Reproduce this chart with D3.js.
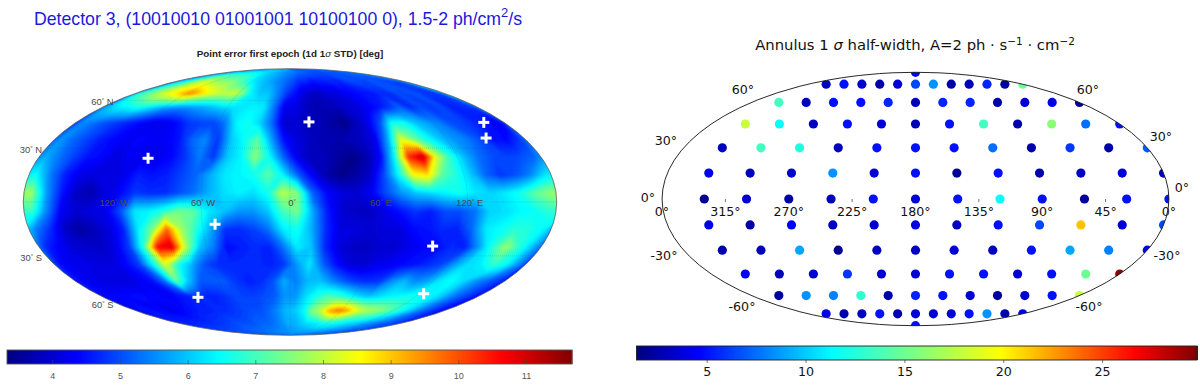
<!DOCTYPE html>
<html lang="en">
<head>
    <meta charset="UTF-8">
    <script src="https://cdn.jsdelivr.net/npm/d3@7"></script>
    <title>Detector 3 sky maps</title>
    <style>
        html, body { margin: 0; padding: 0; background: #fff; }
        svg { display: block; }
    </style>
</head>
<body>
</body>
<script>

    // left map, point error [deg]: one row per latitude band, 36 cells from 180W to 180E
    let lat85 = [5.6,5.8,6,6.1,6.2,6.3,6.3,6.3,6.3,6.3,6.2,6.1,6,5.9,5.8,5.7,5.6,5.5, 5.5,5.4,5.3,5.3,5.2,5.1,5.1,5,5,5,5,5,5,5.1,5.1,5.2,5.2,5.2];
    let lat75 = [6.2,6.6,7,7.8,8.2,8,7.6,7.6,7.6,7.4,7,6.6,6.2,6,5.8,5.6,5.4,5.2, 5,4.7,4.7,4.5,4.6,4.6,4.7,4.6,4.8,5,5,4.9,5,5.1,5,4.9,4.9,5];
    let lat65 = [6.8,7.3,7.8,8.3,8.6,9.2,9.6,9,8.5,8.2,8,8.2,7.5,6.4,6,6,5.5,4.9, 4.5,4.1,3.9,3.9,4.1,4.1,4.3,4.4,4.5,4.5,4.7,4.7,5,4.9,5.1,4.8,4.8,4.9];
    let lat55 = [5.9,6.3,6.4,6.6,6.3,5.9,5.6,5.5,5.6,5.7,5.9,6.1,6.2,6.3,6.4,6.3,5.3,4.2, 4.2,3.9,3.7,3.8,3.8,4,4.1,4.3,4.5,4.8,5.2,4.7,5,4.8,5,4.6,4.7,4.8];
    let lat45 = [5.5,5.3,5,4.8,4.6,4.4,4.2,4.2,4.4,4.8,4.9,4.9,5.3,6.4,6.6,6.1,5.2,4, 4,3.8,3.8,3.6,3.4,3.8,4.2,5,6.6,6.6,6,5.7,5.4,5,4.9,4.7,4.5,4.2];
    let lat35 = [5.6,5.2,4.9,4.6,4.4,4.3,4.4,4.3,4.3,4.5,5.2,5.5,4.8,6,6.5,7.2,5.8,4.5, 4.1,3.9,3.7,3.7,3.8,3.9,4.2,5.8,8.4,7.4,6.6,6,5.6,5.4,5,4.5,4.4,4.8];
    let lat25 = [5.8,5.3,4.9,4.5,4.4,4.1,4.3,4.2,4.2,4.4,4.8,5.4,4.8,6,6.4,7.6,6.5,5.2, 4.2,3.8,3.8,3.6,3.4,3.7,4.4,6.5,10.3,11.2,8.2,6.8,5.9,5.3,5,4.9,5,5.2];
    let lat15 = [6.5,5.4,4.6,4.2,4.1,4.1,4.2,4.6,4.5,4.6,4.9,5.2,5.8,6.3,6.4,6.6,7.2,6.4, 5.2,4.3,3.7,3.4,3.6,3.9,5,6.5,8.5,8.8,7.2,6.7,6,5.2,4.8,5,5.4,6.2];
    let lat05 = [7.8,5.7,4.6,3.9,3.7,4.1,4.4,4.8,4.7,4.7,5,5.3,5.8,6.2,6.4,6.2,6.6,8, 7.5,5.2,4.4,4.1,4,4.3,5,5.6,6,6.2,6.4,6.6,6.3,6.1,6.3,6.6,7.2,7.6];
    let latS05 = [7,5.5,4.3,4,4.1,4.2,5,6.3,6.4,6.8,7.4,7.2,6.3,6,5.6,5.6,6,7, 7.4,5.8,4.6,4,3.9,3.9,4.2,4.5,4.8,4.6,5,5,5.3,6.1,6.2,6.4,6.5,6.8];
    let latS15 = [5.4,4.7,3.9,3.6,3.8,4.1,4.6,6.3,7.4,9.8,7.8,6.8,5.8,4.8,4.7,4.9,5.3,6.3, 6.6,5.8,4.7,4.1,4.1,4,4.1,4.1,4.4,4.5,4.7,4.6,5.2,6.3,6.5,6.8,6.7,6.4];
    let latS25 = [4.7,4.3,4,4,3.9,4.2,4.9,6.8,10.6,11,8,6,5.4,4.4,4.6,4.7,4.6,5.3, 6.3,6,4.7,4.1,3.9,3.9,4,4,4.2,4.4,4.4,4.7,4.6,5.6,6.8,7.7,6.8,5.8];
    let latS35 = [4.4,4.2,4.2,4.1,4.1,4.4,4.9,6.4,8.3,6.6,5.8,5,4.7,4.7,4.7,4.7,4.6,4.8, 5.6,6.3,5.2,4.5,4.1,4,4.2,4.3,4.4,4.5,4.7,4.9,5.6,6.2,6.3,6.9,6.5,5.5];
    let latS45 = [4.4,4.2,4.1,4.1,4.1,4.3,4.5,5.3,7.3,6,5.1,5.1,5.1,4.8,4.6,4.7,5,5.8, 5.4,5.9,6,5.5,5.1,4.8,4.7,4.8,5.5,5.9,5.5,5.7,6.3,6.5,6.2,5.6,5.2,4.8];
    let latS55 = [4.4,4.4,4.4,4.5,4.4,4.4,4.3,4.5,4.6,4.7,4.6,4.7,4.9,4.9,4.9,5,5.1,5.6, 5.6,6.2,6.7,7.1,7,6.6,6.2,6,6.2,6.4,6.5,6.6,6.5,6.4,6,5.4,5,4.6];
    let latS65 = [4.4,4.5,4.4,4.3,4.2,4.4,4.5,4.6,4.6,4.7,4.7,4.8,4.9,5,5,5.2,5.5,5.9, 6,6.4,7.5,8,9.2,9.7,9.4,8.6,8,7.8,7.6,7.2,6.8,6.3,5.7,5.2,4.8,4.5];
    let latS75 = [4.6,4.6,4.6,4.7,4.7,4.7,4.8,4.8,4.9,5,5,5,5.1,5.2,5.2,5.3,5.5,5.8, 5.8,6,6.2,6.3,6.4,6.6,6.6,6.5,6.4,6.2,6.1,5.9,5.7,5.5,5.3,5.2,5,4.8];
    let latS85 = [5,5,5,5,5.1,5.1,5.2,5.2,5.3,5.3,5.3,5.4,5.4,5.4,5.5,5.5,5.5,5.5, 5.6,5.6,5.6,5.6,5.6,5.6,5.6,5.5,5.5,5.4,5.4,5.3,5.2,5.2,5.1,5.1,5,5];
    let errorRows = [lat85, lat75, lat65, lat55, lat45, lat35, lat25, lat15, lat05,
        latS05, latS15, latS25, latS35, latS45, latS55, latS65, latS75, latS85];

    // white crosses, [lon, lat]
    let crosses = [[16, 45.7], [-101.4, 24.2], [163, 45.4], [150.8, 35.9], [-51.3, -12.2], [102, -24.4], [-88.8, -55.6], [124.3, -53.2]];

    let leftLatLabels = [["60", "N", 60, 1.5], ["30", "N", 30, 1.3], ["30", "S", -30, 1.7], ["60", "S", -60, 1.5]];
    let leftLonLabels = [["120", "W", -120], ["60", "W", -60], ["0", "", 0], ["60", "E", 60], ["120", "E", 120]];
    let leftTicks = [4, 5, 6, 7, 8, 9, 10, 11];

    // right map, annulus half-width: one row per latitude, lon -150 .. 180 by 30
    let annulusLons = [-150, -120, -90, -60, -30, 0, 30, 60, 90, 120, 150, 180];
    let ring75 = [3, 5, 3.5, 2.5, 3.5, 6.5, 8.5, 2.5, 2.8, 5.5, 2.2, 15];
    let ring60 = [13.5, 3, 5, 5, 5.5, 3, 5.5, 5.5, 2.5, 3.5, 4, 2.5];
    let ring45 = [18, 11.5, 3, 5, 3.5, 2.8, 5, 13.5, 2.5, 16, 7.5, 5];
    let ring30 = [3, 13.5, 12.5, 3, 5, 5, 5, 7.5, 2.5, 6, 2.5, 7];
    let ring15 = [4, 3, 3.5, 8.5, 3.5, 5, 2, 5, 2.5, 3, 3.5, 3];
    let ring00 = [2, 3.5, 2.5, 3, 5, 3.5, 5, 11.5, 5, 2, 5, 5];
    let ringS15 = [4, 2.5, 4.5, 3, 3.5, 4, 3, 5, 6.5, 21.5, 3.5, 6.5];
    let ringS30 = [2.5, 3, 9, 2, 3, 3, 3.5, 3, 5, 9, 8, 4];
    let ringS45 = [4.5, 3, 3.5, 6, 3.5, 3.5, 5, 5, 3.5, 5, 15, 29.5];
    let ringS60 = [2.2, 8.5, 8, 13, 2.5, 5.5, 5, 3.5, 2.2, 3.5, 5, 18];
    let ringS75 = [4, 2.5, 3, 5, 2.5, 3.5, 3.5, 3.5, 5, 8.5, 2.5, 4];
    let ringLats = [75, 60, 45, 30, 15, 0, -15, -30, -45, -60, -75];
    let annulusRows = [ring75, ring60, ring45, ring30, ring15, ring00, ringS15, ringS30, ringS45, ringS60, ringS75];
    let annulusPoles = [[90, 4.5], [-90, 5]];

    let rightLonTicks = [[-135, "315°"], [-90, "270°"], [-45, "225°"], [0, "180°"], [45, "135°"], [90, "90°"], [135, "45°"]];
    let rightTicks = [5, 10, 15, 20, 25];

    let width = 1200, height = 386;
    let svg = d3.select("body").append("svg")
        .attr("width", width)
        .attr("height", height)
        .style("background", "#fff");

    function mollweideRaw(lambda, phi) {
        let theta = phi;
        if (Math.abs(phi) < Math.PI / 2 - 1e-6) {
            for (let i = 0; i < 30; i++) {
                let d = (2 * theta + Math.sin(2 * theta) - Math.PI * Math.sin(phi)) / (2 + 2 * Math.cos(2 * theta));
                theta -= d;
                if (Math.abs(d) < 1e-8) break;
            }
        }
        return [2 * Math.SQRT2 / Math.PI * lambda * Math.cos(theta), Math.SQRT2 * Math.sin(theta)];
    }

    function jetScale(lo, hi, stops) {
        return d3.scaleLinear()
            .domain(stops.map(t => lo + t * (hi - lo)))
            .range(["#000080", "#0000ff", "#00ffff", "#ffff00", "#ff0000", "#800000"])
            .clamp(true);
    }

    let leftColor = jetScale(3.33, 11.68, [0, 0.125, 0.375, 0.625, 0.875, 1]);
    let rightColor = jetScale(1.45, 29.8, [0, 0.11, 0.35, 0.65, 0.89, 1]);

    let defs = svg.append("defs");

    // ---- left map
    let leftScale = 94.3, leftCx = 290, leftCy = 202;
    let leftProj = d3.geoProjection(mollweideRaw).scale(leftScale).translate([leftCx, leftCy]).precision(0.2);
    let leftPath = d3.geoPath(leftProj);

    defs.append("clipPath").attr("id", "leftClip")
        .append("path").attr("d", leftPath({type: "Sphere"}));

    let blur = defs.append("filter").attr("id", "soft")
        .attr("filterUnits", "userSpaceOnUse")
        .attr("x", 0).attr("y", 40).attr("width", 600).attr("height", 320)
        .attr("color-interpolation-filters", "sRGB");
    blur.append("feGaussianBlur").attr("stdDeviation", 1.1);

    // grid padded by one cell all round so the bands reach the map edge
    let nCols = errorRows[0].length, nRows = errorRows.length;
    let padded = [];
    for (let j = -1; j <= nRows; j++) {
        let row = errorRows[Math.max(0, Math.min(nRows - 1, j))];
        for (let i = -1; i <= nCols; i++) padded.push(row[(i + nCols) % nCols]);
    }

    let bands = d3.contours()
        .size([nCols + 2, nRows + 2])
        .thresholds(d3.range(3.3, 11.7, 0.08))(padded);

    // grid coordinates to map, lon is allowed past 180 as the clip path trims it
    let gridToMap = d3.geoTransform({
        point: function (x, y) {
            let lon = -175 + (x - 1.5) * 10;
            let lat = Math.max(-89.9, Math.min(89.9, 85 - (y - 1.5) * 10));
            let p = mollweideRaw(lon * Math.PI / 180, lat * Math.PI / 180);
            this.stream.point(leftCx + leftScale * p[0], leftCy - leftScale * p[1]);
        }
    });
    let bandPath = d3.geoPath(gridToMap);

    let heat = svg.append("g").attr("clip-path", "url(#leftClip)")
        .append("g").attr("filter", "url(#soft)");
    heat.append("path").attr("d", leftPath({type: "Sphere"})).attr("fill", leftColor(5.3))
        .attr("stroke", leftColor(5.3)).attr("stroke-width", 6);
    heat.selectAll("path.band").data(bands).join("path").attr("class", "band")
        .attr("d", bandPath)
        .attr("fill", d => leftColor(d.value + 0.04));

    svg.append("path")
        .attr("d", leftPath(d3.geoGraticule().step([60, 30]).extent([[-180, -80], [180.01, 80.01]])()))
        .attr("fill", "none")
        .attr("stroke", "#333")
        .attr("stroke-opacity", 0.35)
        .attr("stroke-width", 0.5)
        .attr("stroke-dasharray", "1,1");

    svg.append("path")
        .attr("d", leftPath({type: "Sphere"}))
        .attr("fill", "none")
        .attr("stroke", "#555")
        .attr("stroke-width", 0.7);

    let leftText = svg.append("g")
        .style("font-family", "'Liberation Sans', sans-serif")
        .style("font-size", "9.4px")
        .attr("fill", "#4a4a4a");

    function degLabel(g, x, y, num, hemi, anchor) {
        let t = g.append("text").attr("x", x).attr("y", y).attr("text-anchor", anchor).attr("dy", "0.35em");
        t.append("tspan").text(num);
        t.append("tspan").attr("font-size", 6).attr("dy", -3).text("°");
        if (hemi) t.append("tspan").attr("dy", 3).text(" " + hemi);
        return t;
    }

    leftLatLabels.forEach(d => {
        let p = leftProj([-179.99, d[2]]);
        degLabel(leftText, p[0] - 4, p[1] + d[3], d[0], d[1], "end");
    });
    leftLonLabels.forEach(d => {
        let p = leftProj([d[2], 0]);
        degLabel(leftText, p[0] + 2, p[1] + 1, d[0], d[1], "middle");
    });

    let plus = svg.append("g").attr("stroke", "#fff").attr("stroke-width", 3);
    plus.selectAll("line.h").data(crosses).join("line").attr("class", "h")
        .attr("x1", d => leftProj(d)[0] - 5.5).attr("x2", d => leftProj(d)[0] + 5.5)
        .attr("y1", d => leftProj(d)[1]).attr("y2", d => leftProj(d)[1]);
    plus.selectAll("line.v").data(crosses).join("line").attr("class", "v")
        .attr("x1", d => leftProj(d)[0]).attr("x2", d => leftProj(d)[0])
        .attr("y1", d => leftProj(d)[1] - 5.5).attr("y2", d => leftProj(d)[1] + 5.5);

    let bigTitle = svg.append("text")
        .attr("x", 34).attr("y", 24.5)
        .attr("fill", "#1a1adc")
        .style("font-family", "'Liberation Sans', sans-serif")
        .style("font-size", "17.7px");
    bigTitle.append("tspan").text("Detector 3, (10010010 01001001 10100100 0), 1.5-2 ph/cm");
    bigTitle.append("tspan").attr("dy", -8).style("font-size", "13px").text("2");
    bigTitle.append("tspan").attr("dy", 8).text("/s");

    let subTitle = svg.append("text")
        .attr("x", 290).attr("y", 56.7)
        .attr("text-anchor", "middle")
        .attr("fill", "#222")
        .style("font-family", "'Liberation Sans', sans-serif")
        .style("font-size", "9.8px")
        .style("font-weight", "bold");
    subTitle.append("tspan").text("Point error first epoch (1d 1");
    subTitle.append("tspan").style("font-style", "italic").style("font-weight", "normal").text("σ");
    subTitle.append("tspan").text(" STD) [deg]");

    // ---- right map
    let rightProj = d3.geoProjection(mollweideRaw).scale(89.6).translate([915.5, 199]).precision(0.2);
    let rightPath = d3.geoPath(rightProj);

    defs.append("clipPath").attr("id", "rightClip")
        .append("path").attr("d", rightPath({type: "Sphere"}));

    let points = [];
    annulusRows.forEach((row, r) => {
        row.forEach((v, c) => {
            points.push({lon: annulusLons[c], lat: ringLats[r], v: v});
        });
    });
    annulusPoles.forEach(d => points.push({lon: 0, lat: d[0], v: d[1]}));

    svg.append("g").attr("clip-path", "url(#rightClip)")
        .selectAll("circle").data(points).join("circle")
        .attr("cx", d => rightProj([d.lon, d.lat])[0])
        .attr("cy", d => rightProj([d.lon, d.lat])[1])
        .attr("r", 4.6)
        .attr("fill", d => rightColor(d.v));

    svg.append("path")
        .attr("d", rightPath({type: "Sphere"}))
        .attr("fill", "none")
        .attr("stroke", "#111")
        .attr("stroke-width", 0.9);

    let rightText = svg.append("g")
        .style("font-family", "'DejaVu Sans', sans-serif")
        .style("font-size", "12.6px")
        .attr("fill", "#111");

    rightLonTicks.forEach(d => {
        let p = rightProj([d[0], 0]);
        rightText.append("line").attr("x1", p[0]).attr("x2", p[0]).attr("y1", p[1]).attr("y2", p[1] + 3)
            .attr("stroke", "#111").attr("stroke-width", 0.6);
        rightText.append("text").attr("x", p[0]).attr("y", p[1] + 13).attr("dy", "0.35em")
            .attr("text-anchor", "middle").text(d[1]);
    });
    rightText.append("text").attr("x", 662).attr("y", 212).attr("dy", "0.35em").attr("text-anchor", "middle").text("0°");
    rightText.append("text").attr("x", 1169).attr("y", 212).attr("dy", "0.35em").attr("text-anchor", "middle").text("0°");

    let rightLatText = [["60°", 743, 90], ["30°", 666, 141], ["0°", 648, 198], ["-30°", 664, 256], ["-60°", 742, 307],
        ["60°", 1088, 90], ["30°", 1161, 137], ["0°", 1182, 188], ["-30°", 1167, 256], ["-60°", 1089, 307]];
    rightLatText.forEach(d => {
        rightText.append("text").attr("x", d[1]).attr("y", d[2]).attr("dy", "0.35em").attr("text-anchor", "middle").text(d[0]);
    });

    let rightTitle = svg.append("text")
        .attr("x", 915).attr("y", 50)
        .attr("text-anchor", "middle")
        .attr("fill", "#111")
        .style("font-family", "'DejaVu Sans', sans-serif")
        .style("font-size", "14.8px");
    rightTitle.append("tspan").text("Annulus 1 ");
    rightTitle.append("tspan").style("font-style", "italic").text("σ");
    rightTitle.append("tspan").text(" half-width, A=2 ph · s");
    rightTitle.append("tspan").attr("dy", -5).style("font-size", "10.5px").text("−1");
    rightTitle.append("tspan").attr("dy", 5).text(" · cm");
    rightTitle.append("tspan").attr("dy", -5).style("font-size", "10.5px").text("−2");

    // ---- colorbars
    function colorbar(x0, x1, y, h, lo, hi, color, ticks, opts) {
        let x = d3.scaleLinear().domain([lo, hi]).range([x0, x1]);
        let g = svg.append("g");
        g.selectAll("rect").data(d3.range(x0, x1)).join("rect")
            .attr("x", d => d).attr("y", y).attr("width", 1.5).attr("height", h)
            .attr("fill", d => color(x.invert(d + 0.5)));
        g.append("rect").attr("x", x0).attr("y", y).attr("width", x1 - x0).attr("height", h)
            .attr("fill", "none").attr("stroke", opts.border).attr("stroke-width", 0.9);
        let axis = d3.axisBottom(x).tickValues(ticks).tickSize(opts.tickSize).tickPadding(opts.pad).tickFormat(d3.format("d"));
        let a = g.append("g").attr("transform", `translate(0,${y + h})`).call(axis);
        a.select(".domain").remove();
        a.selectAll("line").attr("stroke", opts.tickColor).attr("stroke-width", 0.6);
        a.selectAll("text")
            .style("font-family", opts.font).style("font-size", opts.size).attr("fill", opts.text);
    }

    colorbar(7, 572, 350, 14, 3.33, 11.68, leftColor, leftTicks,
        {border: "#555", tickSize: -4, pad: 9, tickColor: "#444", font: "'Liberation Sans', sans-serif", size: "9px", text: "#555"});
    colorbar(636.5, 1197, 346, 14, 1.45, 29.8, rightColor, rightTicks,
        {border: "#222", tickSize: 3, pad: 4, tickColor: "#222", font: "'DejaVu Sans', sans-serif", size: "12.6px", text: "#111"});

</script>
</html>
